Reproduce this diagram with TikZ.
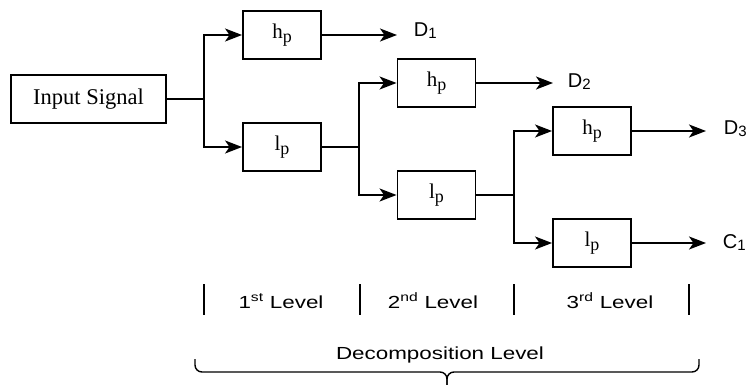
\documentclass[tikz,border=0pt]{standalone}
\usepackage{fontspec}
\setmainfont{Liberation Serif}
\newfontfamily\lsans{Liberation Sans}
\newfontfamily\lsanswide[FakeStretch=1.28]{Liberation Sans}
\usetikzlibrary{arrows.meta}
\newcommand{\hpsub}[1]{#1\raisebox{-3.5pt}{\fontsize{18}{18}\selectfont p}}
\newcommand{\dsub}[2]{#1\raisebox{-2pt}{\fontsize{15}{15}\selectfont #2}}
\begin{document}
\begin{tikzpicture}[x=1pt,y=-1pt,
  line width=1.9pt,
  blk/.style={draw, line width=1.9pt, minimum width=78pt, minimum height=48pt, inner sep=0pt,
    font=\fontsize{21}{24}\selectfont},
  inblk/.style={blk, minimum width=155pt, font=\fontsize{22.5}{26}\selectfont},
  arr/.style={-{Stealth[length=17pt,width=13pt,inset=4.5pt]}},
  outlbl/.style={anchor=base west, inner sep=0pt, font=\lsans\fontsize{20}{22}\selectfont},
  lvl/.style={anchor=base, inner sep=0pt, font=\lsanswide\fontsize{17.5}{22}\selectfont},
  bar/.style={line width=1.6pt}
]
\useasboundingbox (0,0) rectangle (747,385);
% blocks
\node[inblk] (in) at (88.5,99) {Input Signal};
\node[blk] (hp1) at (282,35) {\hpsub{h}};
\node[blk] (lp1) at (282,147) {\hpsub{l}};
\node[blk] (hp2) at (436.5,83) {\hpsub{h}};
\node[blk] (lp2) at (436.5,195) {\hpsub{l}};
\node[blk] (hp3) at (592,131) {\hpsub{h}};
\node[blk] (lp3) at (592,243) {\hpsub{l}};
% branch points
\coordinate (b1) at (204,99);
\coordinate (b2) at (359,147);
\coordinate (b3) at (514,195);
% output ends
\coordinate (e1) at (397,35);
\coordinate (e2) at (553,83);
\coordinate (e3) at (706,131);
\coordinate (e4) at (706,243);
% outputs labels
\node[outlbl] (d1) at (413,37) {\dsub{D}{1}};
\node[outlbl] (d2) at (567,88) {\dsub{D}{2}};
\node[outlbl] (d3) at (723,135) {\dsub{D}{3}};
\node[outlbl] (c1) at (722,248) {\dsub{C}{1}};
% connectors
\draw (in.east) -- (b1);
\draw[arr] (b1) |- (hp1.west);
\draw[arr] (b1) |- (lp1.west);
\draw (lp1.east) -- (b2);
\draw[arr] (b2) |- (hp2.west);
\draw[arr] (b2) |- (lp2.west);
\draw (lp2.east) -- (b3);
\draw[arr] (b3) |- (hp3.west);
\draw[arr] (b3) |- (lp3.west);
\draw[arr] (hp1.east) -- (e1);
\draw[arr] (hp2.east) -- (e2);
\draw[arr] (hp3.east) -- (e3);
\draw[arr] (lp3.east) -- (e4);
% level bars
\foreach \x/\n in {204/a,360/b,514/c,689/d}{
  \coordinate (t\n) at (\x,284);
  \coordinate (u\n) at (\x,315);
  \draw[bar] (t\n) -- (u\n);
}
\node[lvl] (l1) at (281,308) {1\textsuperscript{st} Level};
\node[lvl] (l2) at (433,308) {2\textsuperscript{nd} Level};
\node[lvl] (l3) at (610,308) {3\textsuperscript{rd} Level};
\node[lvl] (dec) at (440,359) {Decomposition Level};
% brace
\coordinate (bl) at (195,359);
\coordinate (br) at (699,359);
\coordinate (bt) at (447,385);
\draw[line width=1.4pt, rounded corners=7pt] (bl) -- (195,372) -- (447,372) -- (bt);
\draw[line width=1.4pt, rounded corners=7pt] (br) -- (699,372) -- (447,372) -- (bt);
\end{tikzpicture}
\end{document}
